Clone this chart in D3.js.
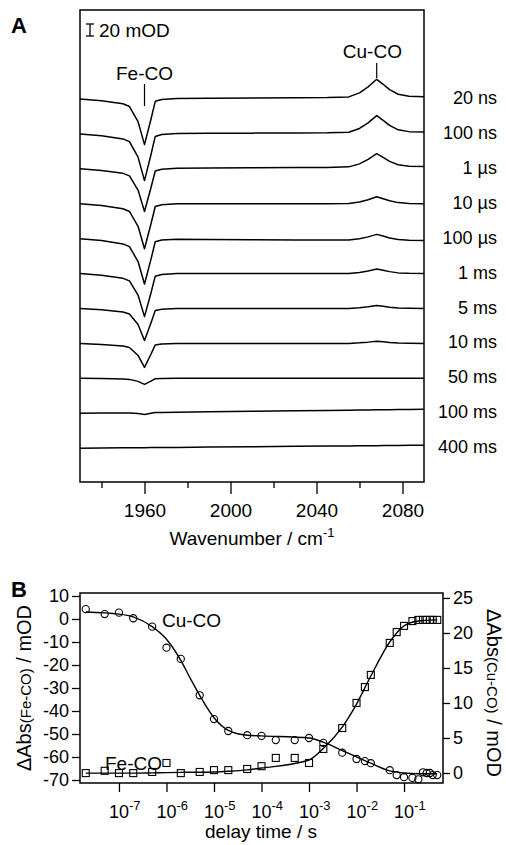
<!DOCTYPE html>
<html>
<head>
<meta charset="utf-8">
<script src="https://cdn.jsdelivr.net/npm/d3@7"></script>
<style>
body{margin:0;background:#fff}
svg{display:block;font-family:"Liberation Sans",Arial,Helvetica,sans-serif}
</style>
</head>
<body>
<svg id="fig" width="506" height="845"></svg>
<script>
// ---- panel A : IR difference spectra (mOD) ----
var wavenumbers = [1930,1940,1950,1953,1957,1960,1963,1965,1968,1975,1990,2010,2030,2045,2055,2060,2064,2068,2071,2074,2078,2083,2090]
var delayLabels = ["20 ns","100 ns","1 \u00b5s","10 \u00b5s","100 \u00b5s","1 ms","5 ms","10 ms","50 ms","100 ms","400 ms"]

var spec20ns  = [0,-2.9,-8.0,-12.6,-37.8,-76.1,-33.8,-3.9,-0.8,0.9,1.2,1.7,2.1,2.4,3.5,10.2,20.2,32.8,24.5,15.6,7.9,4.7,3.9]
var spec100ns = [0,-3.0,-8.3,-12.9,-38.7,-77.8,-34.7,-4.2,-1.0,0.7,0.9,1.3,1.6,1.8,2.8,9.1,18.5,30.5,22.6,14.1,6.8,3.8,3.1]
var spec1us   = [0,-2.7,-7.5,-11.7,-35.3,-71.1,-31.6,-3.6,-0.7,0.9,1.2,1.7,2.1,2.4,3.3,8.3,15.8,25.3,19.1,12.4,6.7,4.3,3.8]
var spec10us  = [0,-3.0,-8.3,-12.8,-37.5,-75.0,-33.8,-4.5,-1.5,0,0,0,0,0,0.4,2.9,6.8,11.7,8.4,4.9,1.9,0.6,0.2]
var spec100us = [0,-3.2,-8.7,-13.3,-38.1,-75.6,-34.5,-5.2,-2.3,-0.9,-1.2,-1.7,-2.1,-2.4,-2.3,-0.2,3.0,7.2,4.3,1.2,-1.5,-2.7,-3.1]
var spec1ms   = [0,-2.9,-7.9,-12.2,-35.8,-71.7,-32.3,-4.3,-1.4,0,0,0,0,0,0.2,2.0,4.5,7.8,5.6,3.3,1.2,0.4,0.2]
var spec5ms   = [0,-2.1,-5.9,-9.1,-26.7,-53.3,-24.0,-3.2,-1.1,0,0,0,0,0,0.2,1.3,2.9,5.0,3.6,2.1,0.8,0.3,0.1]
var spec10ms  = [0,-1.6,-4.4,-6.8,-20.0,-40.0,-18.0,-2.4,-0.8,0,0,0,0,0,0.1,1.0,2.2,3.8,2.7,1.6,0.6,0.2,0.1]
var spec50ms  = [0,-0.4,-1.1,-1.7,-5.0,-10.0,-4.5,-0.6,-0.2,0,0,0,0,0,0,0,0,0,0,0,0,0,0]
var spec100ms = [0,0.3,0.5,0.4,-0.5,-2.0,-0.1,1.3,1.5,1.9,2.5,3.3,4.2,4.8,5.2,5.4,5.6,5.8,5.9,6.0,6.2,6.4,6.7]
var spec400ms = [0,0.3,0.6,0.7,0.8,0.9,1.0,1.1,1.2,1.4,1.9,2.5,3.1,3.6,3.9,4.1,4.2,4.3,4.4,4.5,4.6,4.8,5.0]
var spectra = [spec20ns,spec100ns,spec1us,spec10us,spec100us,spec1ms,spec5ms,spec10ms,spec50ms,spec100ms,spec400ms]

var wnMajorTicks = [1960,2000,2040,2080]
var wnMinorTicks = [1940,1980,2020,2060]

// ---- panel B : kinetics ----
var delayTimes = [2e-8,5e-8,1e-7,2e-7,5e-7,1e-6,2e-6,5e-6,1e-5,2e-5,5e-5,1e-4,2e-4,5e-4,1e-3,2e-3,5e-3,1e-2,1.5e-2,2e-2,5e-2,7e-2,0.1,0.15,0.2,0.25,0.3,0.35,0.4,0.5]
var cuCO = [23.4,22.7,22.9,22.1,20.9,17.9,16.3,11.1,7.7,6.0,5.4,5.3,4.7,4.7,5.0,4.3,2.9,2.0,1.7,1.4,0.4,-0.3,-0.6,-0.7,-0.9,0.1,0.0,0.0,-0.3,-0.3]
var feCO = [-67,-66,-67,-67,-66.5,-62.6,-67,-66.5,-65.7,-65.7,-65.2,-64,-60.4,-60.4,-62.6,-56.5,-47.4,-36.5,-29.6,-24.3,-10.4,-5.7,-3,-0.9,-0.4,-0.4,-0.4,-0.4,-0.4,-0.4]

var fitTimes = [2e-8,1e-7,2e-7,5e-7,1e-6,2e-6,3.3e-6,5e-6,1e-5,2e-5,5e-5,1e-4,1e-3,2e-3,5e-3,1e-2,2e-2,5e-2,0.1,0.2,0.5]
var cuFit = [23.0,22.7,22.3,20.9,19.1,16.1,13.3,11.1,7.9,6.1,5.4,5.3,5.0,4.4,3.2,2.3,1.4,0.3,0.0,-0.1,-0.1]
var feFit = [-67,-67,-67,-66.9,-66.8,-66.7,-66.6,-66.6,-66.5,-66.2,-65.6,-64.8,-61.3,-56.3,-47,-37,-24.8,-10,-3,-0.9,-0.4]

var feTicks = [10,0,-10,-20,-30,-40,-50,-60,-70]
var cuTicks = [0,5,10,15,20,25]
var timeTicks = [1e-7,1e-6,1e-5,1e-4,1e-3,1e-2,1e-1]

var svg = d3.select("#fig")

var styleAxis = function(g, size)
{
    g.select(".domain").remove()
    g.selectAll(".tick line").attr("stroke","#000").attr("stroke-width",1.3)
    g.selectAll(".tick text").attr("fill","#000").style("font-size",size+"px")
        .style("font-family","'Liberation Sans',Arial,sans-serif")
}

var drawPanelA = function(target)
{
    var xA = d3.scaleLinear().domain([1930,2090]).range([80,424])
    var yA = d3.scaleLinear().domain([-638.3,148.3]).range([482,10])
    var traceStep = 58.2

    var line = d3.line()
        .x(function(d,j){return xA(wavenumbers[j])})

    spectra.forEach(function(spec,i)
    {
        line.y(function(d){return yA(d - i*traceStep)})
        target.append("path")
            .attr("d",line(spec))
            .attr("fill","none")
            .attr("stroke","#000")
            .attr("stroke-width",1.5)
            .attr("stroke-linejoin","round")

        target.append("text")
            .text(delayLabels[i])
            .attr("x",497)
            .attr("y",yA(-i*traceStep)+5)
            .attr("text-anchor","end")
            .style("font-size","18px")
    })

    target.append("rect")
        .attr("x",80).attr("y",10).attr("width",344).attr("height",472)
        .attr("fill","none").attr("stroke","#000").attr("stroke-width",1.5)

    target.append("g")
        .attr("transform","translate(0,482)")
        .call(d3.axisBottom(xA).tickValues(wnMajorTicks).tickSize(12).tickPadding(10).tickFormat(d3.format("d")))
        .call(styleAxis,19)
    target.append("g")
        .attr("transform","translate(0,482)")
        .call(d3.axisBottom(xA).tickValues(wnMinorTicks).tickSize(6).tickFormat(""))
        .call(styleAxis,19)

    var xt = target.append("text")
        .attr("x",252).attr("y",545)
        .attr("text-anchor","middle")
        .style("font-size","19px")
    xt.append("tspan").text("Wavenumber / cm")
    xt.append("tspan").text("-1").attr("dy",-8).style("font-size","13px")

    // scale bar
    var barLen = yA(0) - yA(20)
    var bar = target.append("g").attr("stroke","#000").attr("stroke-width",1.3)
    bar.append("line").attr("x1",90).attr("x2",90).attr("y1",24).attr("y2",24+barLen)
    bar.append("line").attr("x1",86).attr("x2",94).attr("y1",24).attr("y2",24)
    bar.append("line").attr("x1",86).attr("x2",94).attr("y1",24+barLen).attr("y2",24+barLen)
    target.append("text").text("20 mOD")
        .attr("x",99).attr("y",37)
        .style("font-size","19px")

    target.append("text").text("Fe-CO")
        .attr("x",xA(1960)).attr("y",80)
        .attr("text-anchor","middle")
        .style("font-size","19px")
    target.append("line")
        .attr("x1",xA(1960)).attr("x2",xA(1960)).attr("y1",84).attr("y2",106)
        .attr("stroke","#000").attr("stroke-width",1.2)

    target.append("text").text("Cu-CO")
        .attr("x",xA(2066)).attr("y",58)
        .attr("text-anchor","middle")
        .style("font-size","19px")
    target.append("line")
        .attr("x1",xA(2068)).attr("x2",xA(2068)).attr("y1",63).attr("y2",78)
        .attr("stroke","#000").attr("stroke-width",1.2)

    target.append("text").text("A")
        .attr("x",11).attr("y",33)
        .style("font-size","22px").style("font-weight","bold")
}

var drawPanelB = function(target)
{
    var xB = d3.scaleLog().domain([Math.pow(10,-7.82),Math.pow(10,-0.18)]).range([80,443])
    var yL = d3.scaleLinear().domain([-71.3,11.3]).range([783,593])
    var yR = d3.scaleLinear().domain([-1.43,25.71]).range([783,593])

    var curve = d3.curveMonotoneX

    // fits
    target.append("path")
        .attr("d",d3.line().curve(curve)
            .x(function(d,i){return xB(fitTimes[i])})
            .y(function(d){return yR(d)})(cuFit))
        .attr("fill","none").attr("stroke","#000").attr("stroke-width",1.4)
    target.append("path")
        .attr("d",d3.line().curve(curve)
            .x(function(d,i){return xB(fitTimes[i])})
            .y(function(d){return yL(d)})(feFit))
        .attr("fill","none").attr("stroke","#000").attr("stroke-width",1.4)

    // markers
    target.append("g").selectAll("circle")
        .data(cuCO)
        .enter()
        .append("circle")
        .attr("cx",function(d,i){return xB(delayTimes[i])})
        .attr("cy",function(d){return yR(d)})
        .attr("r",3.6)
        .attr("fill","none").attr("stroke","#000").attr("stroke-width",1.1)

    var sq = 7
    target.append("g").selectAll("rect")
        .data(feCO)
        .enter()
        .append("rect")
        .attr("x",function(d,i){return xB(delayTimes[i])-sq/2})
        .attr("y",function(d){return yL(d)-sq/2})
        .attr("width",sq).attr("height",sq)
        .attr("fill","none").attr("stroke","#000").attr("stroke-width",1.1)

    target.append("rect")
        .attr("x",80).attr("y",593).attr("width",363).attr("height",190)
        .attr("fill","none").attr("stroke","#000").attr("stroke-width",1.5)

    target.append("g")
        .attr("transform","translate(80,0)")
        .call(d3.axisLeft(yL).tickValues(feTicks).tickSize(8).tickPadding(3).tickFormat(function(d){return String(d)}))
        .call(styleAxis,18)
    target.append("g")
        .attr("transform","translate(443,0)")
        .call(d3.axisRight(yR).tickValues(cuTicks).tickSize(7).tickPadding(3).tickFormat(function(d){return String(d)}))
        .call(styleAxis,18)
    target.append("g")
        .attr("transform","translate(0,783)")
        .call(d3.axisBottom(xB).tickValues(timeTicks).tickSize(9).tickFormat(""))
        .call(styleAxis,18)

    timeTicks.forEach(function(t)
    {
        var lab = target.append("text")
            .attr("x",xB(t)-10).attr("y",818)
            .style("font-size","18px")
        lab.append("tspan").text("10")
        lab.append("tspan").text(String(Math.round(Math.log10(t))))
            .attr("dy",-8).style("font-size","13px")
    })

    target.append("text").text("delay time / s")
        .attr("x",261).attr("y",838)
        .attr("text-anchor","middle")
        .style("font-size","19px")

    var lt = target.append("text")
        .attr("transform","translate(31,688) rotate(-90)")
        .attr("text-anchor","middle")
        .style("font-size","20px")
    lt.append("tspan").text("\u0394Abs")
    lt.append("tspan").text("(Fe-CO)").style("font-size","15px")
    lt.append("tspan").text(" / mOD")

    var rt = target.append("text")
        .attr("transform","translate(487,693) rotate(90)")
        .attr("text-anchor","middle")
        .style("font-size","20px")
    rt.append("tspan").text("\u0394Abs")
    rt.append("tspan").text("(Cu-CO)").style("font-size","15px")
    rt.append("tspan").text(" / mOD")

    target.append("text").text("Cu-CO")
        .attr("x",162).attr("y",627)
        .style("font-size","19px")
    target.append("text").text("Fe-CO")
        .attr("x",105).attr("y",770)
        .style("font-size","19px")

    target.append("text").text("B")
        .attr("x",11).attr("y",597)
        .style("font-size","22px").style("font-weight","bold")
}

drawPanelA(svg.append("g").attr("id","panelA"))
drawPanelB(svg.append("g").attr("id","panelB"))
</script>
</body>
</html>
